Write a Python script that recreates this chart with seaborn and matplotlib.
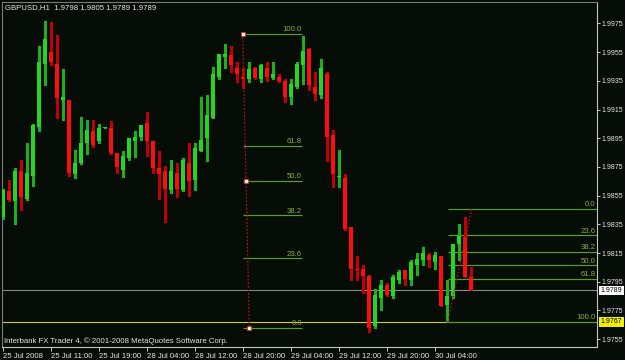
import numpy as np
import pandas as pd
import matplotlib
matplotlib.use('Agg')
import matplotlib.pyplot as plt
import seaborn as sns
from matplotlib.transforms import blended_transform_factory

# ---------------- data (GBPUSD H1) ----------------
opens = [1.9840, 1.9858, 1.9851, 1.9872, 1.9853, 1.9869, 1.9903, 1.9947, 1.9955, 1.9947,
         1.9922, 1.9922, 1.9870, 1.9878, 1.9892, 1.9900, 1.9893, 1.9902, 1.9902, 1.9885,
         1.9873, 1.9881, 1.9893, 1.9896, 1.9906, 1.9893, 1.9874, 1.9872, 1.9859, 1.9871,
         1.9859, 1.9878, 1.9866, 1.9886, 1.9895, 1.9909, 1.9938, 1.9952, 1.9953, 1.9944,
         1.9938, 1.9936, 1.9944, 1.9936, 1.9944, 1.9937, 1.9938, 1.9935, 1.9924, 1.9931,
         1.9946, 1.9957, 1.9931, 1.9925, 1.9940, 1.9897, 1.9868, 1.9867, 1.9833, 1.9804,
         1.9804, 1.9799, 1.9764, 1.9784, 1.9793, 1.9785, 1.9796, 1.9803, 1.9796, 1.9807,
         1.9810, 1.9814, 1.9809, 1.9813, 1.9779, 1.9785, 1.9821, 1.9826, 1.9798]
highs = [1.9860, 1.9866, 1.9874, 1.9880, 1.9892, 1.9905, 1.9959, 1.9977, 1.9976, 1.9967,
         1.9943, 1.9922, 1.9887, 1.9910, 1.9908, 1.9908, 1.9905, 1.9903, 1.9907, 1.9885,
         1.9886, 1.9895, 1.9900, 1.9904, 1.9913, 1.9893, 1.9886, 1.9876, 1.9880, 1.9878,
         1.9881, 1.9892, 1.9892, 1.9924, 1.9925, 1.9945, 1.9954, 1.9961, 1.9959, 1.9948,
         1.9944, 1.9948, 1.9945, 1.9947, 1.9948, 1.9948, 1.9940, 1.9936, 1.9936, 1.9948,
         1.9966, 1.9958, 1.9941, 1.9950, 1.9941, 1.9901, 1.9887, 1.9870, 1.9833, 1.9813,
         1.9807, 1.9800, 1.9790, 1.9796, 1.9794, 1.9800, 1.9803, 1.9803, 1.9810, 1.9815,
         1.9819, 1.9815, 1.9816, 1.9813, 1.9796, 1.9821, 1.9835, 1.9840, 1.9805]
lows = [1.9839, 1.9851, 1.9835, 1.9845, 1.9852, 1.9862, 1.9900, 1.9932, 1.9946, 1.9909,
        1.9908, 1.9869, 1.9867, 1.9877, 1.9884, 1.9889, 1.9892, 1.9902, 1.9884, 1.9871,
        1.9868, 1.9880, 1.9882, 1.9894, 1.9883, 1.9871, 1.9853, 1.9837, 1.9857, 1.9854,
        1.9858, 1.9855, 1.9859, 1.9886, 1.9879, 1.9909, 1.9936, 1.9944, 1.9941, 1.9934,
        1.9930, 1.9934, 1.9936, 1.9934, 1.9935, 1.9936, 1.9934, 1.9920, 1.9919, 1.9930,
        1.9933, 1.9929, 1.9922, 1.9923, 1.9879, 1.9861, 1.9861, 1.9831, 1.9796, 1.9796,
        1.9787, 1.9760, 1.9763, 1.9775, 1.9785, 1.9784, 1.9794, 1.9793, 1.9793, 1.9800,
        1.9807, 1.9805, 1.9804, 1.9778, 1.9767, 1.9784, 1.9810, 1.9798, 1.9789]
closes = [1.9859, 1.9852, 1.9872, 1.9854, 1.9871, 1.9904, 1.9948, 1.9964, 1.9948, 1.9923,
          1.9924, 1.9871, 1.9878, 1.9892, 1.9901, 1.9890, 1.9902, 1.9903, 1.9885, 1.9875,
          1.9883, 1.9895, 1.9896, 1.9904, 1.9893, 1.9874, 1.9870, 1.9860, 1.9872, 1.9860,
          1.9880, 1.9865, 1.9888, 1.9894, 1.9911, 1.9940, 1.9954, 1.9954, 1.9946, 1.9940,
          1.9936, 1.9943, 1.9937, 1.9946, 1.9938, 1.9940, 1.9935, 1.9924, 1.9933, 1.9947,
          1.9956, 1.9932, 1.9926, 1.9944, 1.9896, 1.9870, 1.9869, 1.9832, 1.9804, 1.9803,
          1.9799, 1.9763, 1.9786, 1.9793, 1.9786, 1.9798, 1.9802, 1.9797, 1.9809, 1.9811,
          1.9815, 1.9810, 1.9814, 1.9778, 1.9785, 1.9821, 1.9827, 1.9798, 1.9789]

time_labels = ["25 Jul 2008", "25 Jul 11:00", "25 Jul 19:00", "28 Jul 04:00", "28 Jul 12:00",
               "28 Jul 20:00", "29 Jul 04:00", "29 Jul 12:00", "29 Jul 20:00", "30 Jul 04:00"]
label_every = 8
price_ticks = [1.9975, 1.9955, 1.9935, 1.9915, 1.9895, 1.9875, 1.9855,
               1.9835, 1.9815, 1.9795, 1.9775, 1.9755]

current_price = 1.9789
hline_price = 1.9767

fib_levels = [0.0, 23.6, 38.2, 50.0, 61.8, 100.0]
fib1_bars = [40.0, 41.1]          # (100 point, 0 point)
fib1_prices = [1.9968, 1.9763]
fib1_end_bar = 49.9
fib2_bars = [74.17, 78.17]        # (100 point, 0 point)
fib2_prices = [1.9767, 1.9846]

symbol = "GBPUSD,H1"
copyright_text = "Interbank FX Trader 4, \u00a9 2001-2008 MetaQuotes Software Corp."

# ---------------- style ----------------
BG = '#060d07'
UP_BODY, DN_BODY = '#22d622', '#ff0c0c'
UP_WICK, DN_WICK = '#1bb01b', '#c20000'
FIB_LINE, FIB_TXT = '#5c9e19', '#86b232'
TXT = '#e6e6e6'
FS = 5.6
FS_Y = 5.0

sns.set_theme(style='dark', rc={'axes.facecolor': BG, 'figure.facecolor': BG,
                                'savefig.facecolor': BG, 'axes.grid': False})
plt.rcParams['font.family'] = ['Liberation Sans', 'DejaVu Sans']

df = pd.DataFrame({'bar': np.arange(len(opens)), 'open': opens, 'high': highs,
                   'low': lows, 'close': closes})
df['up'] = df['close'] >= df['open']

fig = plt.figure(figsize=(6.25, 3.6), dpi=100)
ax = fig.add_axes([2 / 625, 13 / 360, 595 / 625, 345 / 360])
ax.set_facecolor(BG)
xlim = (-0.117, 99.05)
ax.set_xlim(*xlim)
ax.set_ylim(1.974956, 1.998998)

# horizontal price lines
ax.axhline(current_price, color='#8c8c8c', lw=0.75, zorder=1)
ax.axhline(hline_price, color='#d8d800', lw=0.75, zorder=1)

# candles
wick_cols = np.where(df['up'], UP_WICK, DN_WICK)
body_cols = np.where(df['up'], UP_BODY, DN_BODY)
ax.vlines(df['bar'], df['low'], df['high'], colors=wick_cols, lw=0.75,
          antialiased=False, zorder=3)
bottom = np.minimum(df['open'], df['close'])
height = np.maximum((df['close'] - df['open']).abs(), 0.00007)
ax.bar(df['bar'], height, bottom=bottom, width=0.66, color=body_cols,
       linewidth=0, antialiased=False, zorder=4)


def draw_fib(bars, prices, x_end, label_x):
    p100, p0 = prices
    for lvl in fib_levels:
        p = p0 + (p100 - p0) * lvl / 100.0
        ax.hlines(p, bars[0], x_end, color=FIB_LINE, lw=0.85, zorder=2)
        ax.text(label_x, p + 0.00004, f"{lvl:.1f}", ha='right', va='bottom',
                fontsize=FS, color=FIB_TXT, zorder=5)
    ax.plot(bars, prices, color='#cc1010', lw=0.8, ls=(0, (1.6, 1.6)), zorder=5)


draw_fib(fib1_bars, fib1_prices, fib1_end_bar, fib1_end_bar)
draw_fib(fib2_bars, fib2_prices, xlim[1], xlim[1] - 0.2)

# handle markers on the first fibo trend line
mx = [fib1_bars[0], (fib1_bars[0] + fib1_bars[1]) / 2, fib1_bars[1]]
my = [fib1_prices[0], (fib1_prices[0] + fib1_prices[1]) / 2, fib1_prices[1]]
sns.scatterplot(x=mx, y=my, ax=ax, marker='s', s=5, color='#fff2dc',
                edgecolor='#e02020', linewidth=0.5, zorder=7, legend=False)

# axes / ticks
ax.yaxis.tick_right()
ax.set_yticks(price_ticks, [f"{v:.4f}" for v in price_ticks])
ax.set_xticks(np.arange(len(time_labels)) * label_every, time_labels)
for lbl in ax.get_xticklabels():
    lbl.set_horizontalalignment('left')
ax.tick_params(axis='y', which='both', direction='out', length=2.5, width=0.7,
               color='#c8c8c8', labelcolor=TXT, labelsize=FS_Y, pad=1.0,
               right=True, left=False)
ax.tick_params(axis='x', which='both', direction='out', length=3, width=0.7,
               color='#c8c8c8', labelcolor=TXT, labelsize=FS, pad=1.0,
               bottom=True)
for side, col in [('left', '#7a7a7a'), ('top', '#7a7a7a'),
                  ('right', '#c4c4c4'), ('bottom', '#c4c4c4')]:
    ax.spines[side].set_visible(True)
    ax.spines[side].set_color(col)
    ax.spines[side].set_linewidth(0.8)

# price boxes on the right scale
trans = blended_transform_factory(ax.transAxes, ax.transData)
for price, fc in [(current_price, 'white'), (hline_price, '#f0f000')]:
    ax.annotate(f"{price:.4f}", xy=(1, price), xycoords=trans,
                xytext=(2.6, 0), textcoords='offset points', ha='left', va='center',
                fontsize=FS_Y, color='black', annotation_clip=False,
                bbox=dict(boxstyle='square,pad=0.2', fc=fc, ec=fc, lw=0))

# header and footer texts
head = f"{symbol}  {opens[-1]:.4f} {highs[-1]:.4f} {lows[-1]:.4f} {closes[-1]:.4f}"
fig.text(5 / 625, 1 - 8 / 360, head, ha='left', va='center', fontsize=FS, color=TXT)
fig.text(4 / 625, 1 - 341 / 360, copyright_text, ha='left', va='center',
         fontsize=FS, color=TXT)

fig.savefig('out.png', dpi=100, facecolor=BG)
